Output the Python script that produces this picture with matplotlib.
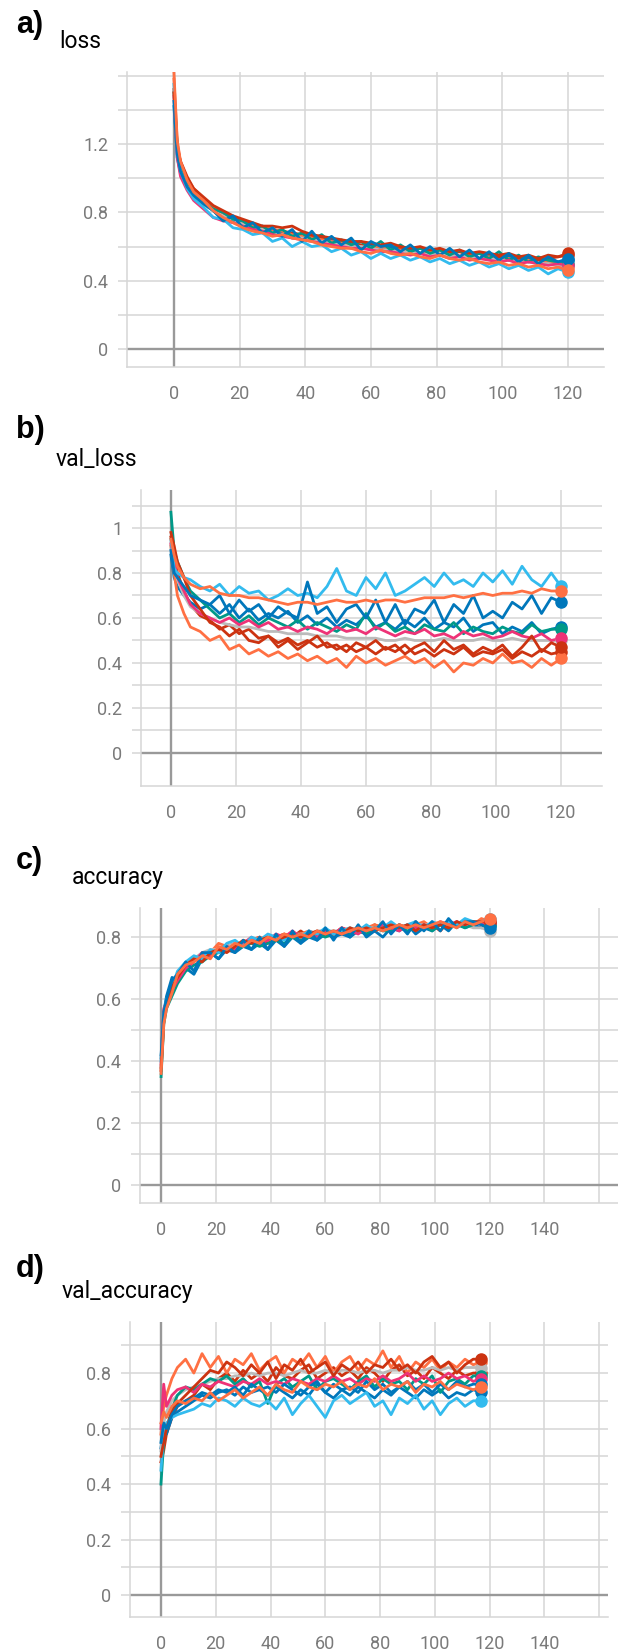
import numpy as np
import matplotlib
matplotlib.use("Agg")
import matplotlib.pyplot as plt

epochs = [0, 1, 2, 4, 6] + list(range(9, 121, 3))
epochs_va = epochs[:-1]

run_names = ["orange1", "blue1", "red1", "cyan", "magenta", "teal", "gray", "orange2", "blue2", "red2"]
run_colors = ["#ff7043", "#0077bb", "#cc3311", "#33bbee", "#ee3377", "#009988", "#bbbbbb",
              "#ff7043", "#0077bb", "#cc3311"]

# ---- loss ----
loss_orange1 = [1.62, 1.22, 1.10, 0.99, 0.92,
                0.87, 0.81, 0.77, 0.74, 0.71, 0.69, 0.68, 0.66, 0.67, 0.65,
                0.64, 0.63, 0.61, 0.60, 0.59, 0.59, 0.57, 0.56, 0.58, 0.56,
                0.55, 0.56, 0.54, 0.53, 0.55, 0.53, 0.52, 0.53, 0.51, 0.50,
                0.51, 0.49, 0.50, 0.48, 0.49, 0.47, 0.48, 0.46]
loss_blue1 = [1.45, 1.14, 1.04, 0.95, 0.90,
              0.85, 0.81, 0.75, 0.78, 0.71, 0.74, 0.68, 0.71, 0.66, 0.70,
              0.63, 0.69, 0.62, 0.66, 0.61, 0.65, 0.58, 0.63, 0.60, 0.61,
              0.57, 0.61, 0.56, 0.60, 0.55, 0.59, 0.54, 0.58, 0.53, 0.57,
              0.52, 0.56, 0.51, 0.55, 0.50, 0.54, 0.51, 0.53]
loss_red1 = [1.50, 1.18, 1.10, 1.01, 0.94,
             0.89, 0.84, 0.81, 0.78, 0.76, 0.74, 0.72, 0.72, 0.71, 0.72,
             0.69, 0.67, 0.66, 0.65, 0.64, 0.63, 0.63, 0.62, 0.61, 0.62,
             0.60, 0.59, 0.60, 0.58, 0.59, 0.57, 0.58, 0.56, 0.57, 0.56,
             0.55, 0.56, 0.54, 0.55, 0.53, 0.55, 0.54, 0.56]
loss_cyan = [1.55, 1.16, 1.04, 0.94, 0.88,
             0.83, 0.77, 0.76, 0.71, 0.70, 0.67, 0.68, 0.63, 0.65, 0.60,
             0.63, 0.60, 0.61, 0.57, 0.59, 0.55, 0.57, 0.53, 0.56, 0.53,
             0.55, 0.52, 0.54, 0.51, 0.53, 0.50, 0.52, 0.49, 0.51, 0.48,
             0.50, 0.47, 0.49, 0.46, 0.48, 0.44, 0.47, 0.45]
loss_magenta = [1.48, 1.12, 1.01, 0.93, 0.87,
                0.82, 0.77, 0.75, 0.74, 0.72, 0.70, 0.69, 0.67, 0.66, 0.65,
                0.64, 0.63, 0.62, 0.61, 0.60, 0.59, 0.59, 0.58, 0.57, 0.57,
                0.56, 0.55, 0.56, 0.54, 0.55, 0.53, 0.54, 0.52, 0.53, 0.52,
                0.51, 0.52, 0.50, 0.51, 0.50, 0.49, 0.50, 0.49]
loss_teal = [1.50, 1.19, 1.08, 0.98, 0.92,
             0.86, 0.82, 0.80, 0.76, 0.75, 0.71, 0.72, 0.68, 0.70, 0.66,
             0.68, 0.64, 0.67, 0.62, 0.64, 0.61, 0.63, 0.59, 0.63, 0.58,
             0.61, 0.57, 0.59, 0.56, 0.58, 0.55, 0.58, 0.54, 0.56, 0.53,
             0.57, 0.52, 0.55, 0.51, 0.54, 0.52, 0.51, 0.50]
loss_gray = [1.47, 1.16, 1.06, 0.97, 0.91,
             0.85, 0.81, 0.78, 0.76, 0.73, 0.71, 0.70, 0.68, 0.67, 0.66,
             0.65, 0.64, 0.63, 0.62, 0.61, 0.60, 0.60, 0.59, 0.58, 0.58,
             0.57, 0.57, 0.56, 0.55, 0.56, 0.54, 0.55, 0.54, 0.53, 0.53,
             0.52, 0.52, 0.51, 0.51, 0.50, 0.50, 0.49, 0.49]
loss_orange2 = [1.58, 1.21, 1.09, 1.00, 0.94,
                0.88, 0.83, 0.80, 0.77, 0.74, 0.72, 0.71, 0.70, 0.69, 0.67,
                0.66, 0.65, 0.64, 0.63, 0.62, 0.61, 0.60, 0.59, 0.60, 0.58,
                0.58, 0.57, 0.56, 0.57, 0.55, 0.56, 0.54, 0.55, 0.53, 0.54,
                0.52, 0.53, 0.51, 0.52, 0.50, 0.51, 0.49, 0.48]
loss_blue2 = [1.42, 1.12, 1.03, 0.95, 0.90,
              0.85, 0.81, 0.76, 0.75, 0.73, 0.70, 0.72, 0.67, 0.69, 0.65,
              0.66, 0.64, 0.62, 0.64, 0.60, 0.62, 0.59, 0.61, 0.58, 0.60,
              0.57, 0.59, 0.56, 0.58, 0.55, 0.57, 0.54, 0.56, 0.53, 0.55,
              0.52, 0.54, 0.51, 0.53, 0.50, 0.52, 0.51, 0.52]
loss_red2 = [1.52, 1.19, 1.09, 1.00, 0.93,
             0.88, 0.83, 0.79, 0.77, 0.75, 0.73, 0.71, 0.70, 0.69, 0.68,
             0.67, 0.66, 0.65, 0.64, 0.63, 0.62, 0.61, 0.61, 0.60, 0.60,
             0.59, 0.58, 0.59, 0.57, 0.58, 0.56, 0.57, 0.55, 0.56, 0.55,
             0.54, 0.55, 0.53, 0.54, 0.52, 0.53, 0.54, 0.55]

# ---- val_loss ----
vl_orange1 = [0.95, 0.88, 0.83, 0.78, 0.75,
              0.73, 0.74, 0.71, 0.70, 0.70, 0.69, 0.69, 0.68, 0.67, 0.66,
              0.67, 0.67, 0.66, 0.67, 0.68, 0.67, 0.67, 0.68, 0.67, 0.68,
              0.68, 0.67, 0.68, 0.69, 0.69, 0.69, 0.70, 0.69, 0.70, 0.71,
              0.70, 0.71, 0.71, 0.72, 0.71, 0.73, 0.72, 0.72]
vl_blue1 = [0.90, 0.80, 0.78, 0.74, 0.70,
            0.68, 0.66, 0.70, 0.62, 0.68, 0.63, 0.66, 0.60, 0.65, 0.62,
            0.60, 0.76, 0.62, 0.65, 0.58, 0.64, 0.66, 0.60, 0.68, 0.58,
            0.66, 0.57, 0.64, 0.62, 0.68, 0.58, 0.66, 0.62, 0.70, 0.60,
            0.63, 0.60, 0.67, 0.64, 0.70, 0.62, 0.69, 0.67]
vl_red1 = [0.98, 0.92, 0.85, 0.78, 0.70,
           0.64, 0.58, 0.56, 0.52, 0.55, 0.50, 0.49, 0.52, 0.47, 0.50,
           0.46, 0.49, 0.52, 0.47, 0.48, 0.45, 0.49, 0.47, 0.50, 0.46,
           0.48, 0.44, 0.47, 0.49, 0.45, 0.50, 0.46, 0.48, 0.44, 0.47,
           0.45, 0.48, 0.43, 0.47, 0.52, 0.45, 0.49, 0.47]
vl_cyan = [0.95, 0.82, 0.80, 0.78, 0.77,
           0.74, 0.72, 0.75, 0.70, 0.74, 0.71, 0.72, 0.68, 0.70, 0.73,
           0.70, 0.71, 0.69, 0.74, 0.82, 0.72, 0.70, 0.78, 0.73, 0.80,
           0.70, 0.72, 0.75, 0.78, 0.74, 0.80, 0.75, 0.77, 0.74, 0.80,
           0.76, 0.81, 0.75, 0.83, 0.77, 0.74, 0.80, 0.74]
vl_magenta = [0.93, 0.85, 0.78, 0.72, 0.66,
              0.62, 0.60, 0.58, 0.60, 0.57, 0.59, 0.56, 0.58, 0.55, 0.56,
              0.54, 0.56, 0.55, 0.53, 0.56, 0.54, 0.55, 0.53, 0.56, 0.54,
              0.52, 0.54, 0.53, 0.55, 0.52, 0.53, 0.51, 0.54, 0.52, 0.53,
              0.51, 0.52, 0.54, 0.52, 0.51, 0.53, 0.50, 0.51]
vl_teal = [1.07, 0.90, 0.85, 0.78, 0.72,
           0.68, 0.64, 0.60, 0.62, 0.58, 0.61, 0.57, 0.60, 0.58, 0.56,
           0.59, 0.55, 0.58, 0.56, 0.54, 0.57, 0.55, 0.62, 0.55, 0.58,
           0.54, 0.56, 0.53, 0.57, 0.55, 0.54, 0.58, 0.53, 0.56, 0.54,
           0.53, 0.56, 0.54, 0.53, 0.57, 0.54, 0.55, 0.55]
vl_gray = [0.92, 0.84, 0.77, 0.70, 0.65,
           0.62, 0.60, 0.58, 0.57, 0.56, 0.56, 0.55, 0.54, 0.54, 0.53,
           0.53, 0.53, 0.52, 0.52, 0.52, 0.51, 0.51, 0.51, 0.51, 0.50,
           0.50, 0.51, 0.50, 0.50, 0.50, 0.51, 0.50, 0.50, 0.50, 0.51,
           0.50, 0.50, 0.51, 0.50, 0.50, 0.50, 0.50, 0.50]
vl_orange2 = [0.92, 0.80, 0.70, 0.62, 0.56,
              0.54, 0.50, 0.52, 0.46, 0.48, 0.44, 0.46, 0.43, 0.45, 0.42,
              0.44, 0.41, 0.43, 0.40, 0.42, 0.38, 0.43, 0.40, 0.42, 0.39,
              0.41, 0.43, 0.40, 0.42, 0.38, 0.41, 0.36, 0.40, 0.39, 0.42,
              0.40, 0.44, 0.40, 0.41, 0.38, 0.42, 0.39, 0.42]
vl_blue2 = [0.88, 0.78, 0.74, 0.70, 0.67,
            0.64, 0.66, 0.62, 0.66, 0.60, 0.64, 0.59, 0.62, 0.60, 0.63,
            0.58, 0.61, 0.57, 0.60, 0.56, 0.59, 0.57, 0.61, 0.56, 0.58,
            0.55, 0.59, 0.56, 0.60, 0.55, 0.58, 0.56, 0.60, 0.54, 0.57,
            0.58, 0.53, 0.56, 0.54, 0.58, 0.53, 0.55, 0.56]
vl_red2 = [0.96, 0.88, 0.80, 0.72, 0.66,
           0.61, 0.59, 0.55, 0.57, 0.53, 0.55, 0.51, 0.52, 0.49, 0.51,
           0.48, 0.50, 0.47, 0.49, 0.46, 0.48, 0.45, 0.47, 0.44, 0.47,
           0.45, 0.48, 0.44, 0.46, 0.43, 0.46, 0.44, 0.47, 0.43, 0.45,
           0.44, 0.46, 0.42, 0.45, 0.43, 0.46, 0.44, 0.45]

# ---- accuracy ----
acc_orange1 = [0.36, 0.52, 0.57, 0.62, 0.68,
               0.71, 0.72, 0.74, 0.73, 0.77, 0.76, 0.78, 0.77, 0.79, 0.78,
               0.80, 0.79, 0.81, 0.80, 0.81, 0.80, 0.82, 0.81, 0.82, 0.81,
               0.82, 0.83, 0.82, 0.83, 0.82, 0.83, 0.84, 0.83, 0.84, 0.83,
               0.84, 0.85, 0.84, 0.83, 0.85, 0.84, 0.85, 0.86]
acc_blue1 = [0.42, 0.56, 0.60, 0.66, 0.68,
             0.72, 0.69, 0.75, 0.75, 0.73, 0.77, 0.75, 0.79, 0.76, 0.80,
             0.76, 0.81, 0.77, 0.82, 0.78, 0.82, 0.79, 0.83, 0.79, 0.83,
             0.80, 0.84, 0.80, 0.82, 0.85, 0.81, 0.84, 0.81, 0.85, 0.82,
             0.85, 0.82, 0.86, 0.83, 0.85, 0.85, 0.84, 0.83]
acc_red1 = [0.38, 0.54, 0.59, 0.64, 0.67,
            0.71, 0.73, 0.72, 0.75, 0.76, 0.75, 0.77, 0.79, 0.78, 0.79,
            0.80, 0.79, 0.80, 0.81, 0.80, 0.81, 0.82, 0.81, 0.82, 0.81,
            0.83, 0.82, 0.83, 0.82, 0.83, 0.84, 0.83, 0.84, 0.82, 0.84,
            0.83, 0.84, 0.83, 0.85, 0.84, 0.85, 0.85, 0.85]
acc_cyan = [0.40, 0.55, 0.60, 0.64, 0.69,
            0.72, 0.74, 0.73, 0.76, 0.75, 0.78, 0.79, 0.77, 0.80, 0.79,
            0.81, 0.80, 0.79, 0.81, 0.80, 0.82, 0.81, 0.83, 0.81, 0.82,
            0.83, 0.82, 0.84, 0.82, 0.83, 0.85, 0.83, 0.84, 0.85, 0.83,
            0.85, 0.84, 0.85, 0.84, 0.86, 0.85, 0.85, 0.86]
acc_magenta = [0.39, 0.57, 0.59, 0.63, 0.66,
               0.70, 0.72, 0.75, 0.74, 0.76, 0.77, 0.76, 0.78, 0.80, 0.78,
               0.79, 0.81, 0.80, 0.82, 0.80, 0.81, 0.80, 0.82, 0.81, 0.83,
               0.82, 0.81, 0.83, 0.82, 0.84, 0.83, 0.82, 0.84, 0.83, 0.84,
               0.83, 0.85, 0.84, 0.85, 0.84, 0.85, 0.84, 0.85]
acc_teal = [0.35, 0.52, 0.57, 0.61, 0.65,
            0.69, 0.71, 0.72, 0.74, 0.75, 0.76, 0.76, 0.77, 0.78, 0.77,
            0.78, 0.79, 0.78, 0.80, 0.79, 0.80, 0.81, 0.80, 0.81, 0.82,
            0.81, 0.82, 0.81, 0.83, 0.82, 0.82, 0.83, 0.82, 0.83, 0.84,
            0.82, 0.84, 0.83, 0.84, 0.83, 0.84, 0.85, 0.84]
acc_gray = [0.40, 0.55, 0.59, 0.64, 0.67,
            0.71, 0.73, 0.75, 0.76, 0.76, 0.77, 0.78, 0.78, 0.79, 0.79,
            0.80, 0.80, 0.80, 0.81, 0.81, 0.81, 0.82, 0.82, 0.82, 0.82,
            0.82, 0.83, 0.83, 0.83, 0.83, 0.83, 0.83, 0.84, 0.84, 0.84,
            0.84, 0.84, 0.84, 0.84, 0.84, 0.83, 0.83, 0.82]
acc_orange2 = [0.37, 0.53, 0.58, 0.63, 0.67,
               0.70, 0.73, 0.74, 0.75, 0.78, 0.77, 0.76, 0.78, 0.79, 0.80,
               0.79, 0.80, 0.81, 0.80, 0.81, 0.82, 0.81, 0.82, 0.81, 0.82,
               0.83, 0.82, 0.83, 0.84, 0.83, 0.82, 0.84, 0.83, 0.84, 0.85,
               0.83, 0.84, 0.85, 0.84, 0.85, 0.84, 0.86, 0.85]
acc_blue2 = [0.41, 0.56, 0.61, 0.67, 0.66,
             0.70, 0.68, 0.73, 0.75, 0.73, 0.76, 0.75, 0.77, 0.76, 0.78,
             0.76, 0.79, 0.77, 0.80, 0.78, 0.80, 0.79, 0.81, 0.80, 0.81,
             0.80, 0.82, 0.81, 0.82, 0.80, 0.83, 0.82, 0.84, 0.81, 0.83,
             0.82, 0.84, 0.82, 0.85, 0.83, 0.84, 0.83, 0.84]
acc_red2 = [0.37, 0.53, 0.58, 0.62, 0.66,
            0.70, 0.73, 0.74, 0.74, 0.76, 0.77, 0.78, 0.77, 0.79, 0.80,
            0.78, 0.80, 0.81, 0.80, 0.82, 0.80, 0.81, 0.82, 0.81, 0.83,
            0.82, 0.83, 0.82, 0.84, 0.83, 0.82, 0.84, 0.83, 0.85, 0.83,
            0.84, 0.82, 0.85, 0.84, 0.85, 0.84, 0.85, 0.85]

# ---- val_accuracy ----
va_orange1 = [0.62, 0.66, 0.64, 0.68, 0.70,
              0.69, 0.71, 0.70, 0.73, 0.70, 0.72, 0.74, 0.71, 0.73, 0.75,
              0.72, 0.76, 0.74, 0.73, 0.77, 0.75, 0.74, 0.76, 0.75, 0.77,
              0.74, 0.76, 0.75, 0.78, 0.74, 0.76, 0.75, 0.77, 0.73, 0.76,
              0.75, 0.77, 0.74, 0.76, 0.75, 0.74, 0.75]
va_blue1 = [0.55, 0.62, 0.60, 0.65, 0.68,
            0.70, 0.71, 0.73, 0.72, 0.74, 0.73, 0.75, 0.72, 0.76, 0.74,
            0.75, 0.73, 0.76, 0.74, 0.72, 0.75, 0.77, 0.73, 0.76, 0.74,
            0.75, 0.73, 0.77, 0.74, 0.76, 0.73, 0.75, 0.77, 0.74, 0.76,
            0.73, 0.76, 0.74, 0.77, 0.75, 0.76, 0.76]
va_red1 = [0.50, 0.55, 0.60, 0.66, 0.69,
           0.72, 0.75, 0.78, 0.81, 0.80, 0.84, 0.82, 0.79, 0.83, 0.80,
           0.84, 0.78, 0.83, 0.81, 0.85, 0.80, 0.82, 0.84, 0.79, 0.83,
           0.81, 0.84, 0.80, 0.83, 0.82, 0.85, 0.81, 0.83, 0.80, 0.84,
           0.86, 0.82, 0.84, 0.80, 0.83, 0.85, 0.85]
va_cyan = [0.45, 0.58, 0.62, 0.64, 0.65,
           0.66, 0.67, 0.69, 0.68, 0.71, 0.70, 0.68, 0.71, 0.69, 0.68,
           0.70, 0.67, 0.71, 0.65, 0.69, 0.72, 0.68, 0.64, 0.70, 0.72,
           0.69, 0.71, 0.73, 0.68, 0.70, 0.65, 0.71, 0.69, 0.72, 0.67,
           0.70, 0.65, 0.69, 0.71, 0.68, 0.70, 0.70]
va_magenta = [0.60, 0.76, 0.68, 0.72, 0.74,
              0.75, 0.73, 0.76, 0.75, 0.77, 0.76, 0.75, 0.77, 0.76, 0.78,
              0.76, 0.77, 0.76, 0.78, 0.77, 0.76, 0.78, 0.77, 0.79, 0.77,
              0.78, 0.76, 0.78, 0.77, 0.79, 0.77, 0.78, 0.80, 0.77, 0.79,
              0.77, 0.78, 0.80, 0.78, 0.79, 0.77, 0.78]
va_teal = [0.40, 0.55, 0.60, 0.67, 0.72,
           0.75, 0.74, 0.76, 0.78, 0.77, 0.79, 0.76, 0.78, 0.75, 0.77,
           0.69, 0.76, 0.78, 0.75, 0.77, 0.79, 0.74, 0.77, 0.78, 0.76,
           0.74, 0.77, 0.79, 0.75, 0.78, 0.76, 0.77, 0.74, 0.78, 0.76,
           0.79, 0.73, 0.77, 0.78, 0.76, 0.79, 0.79]
va_gray = [0.52, 0.62, 0.66, 0.70, 0.72,
           0.74, 0.75, 0.76, 0.77, 0.78, 0.78, 0.79, 0.79, 0.80, 0.79,
           0.80, 0.80, 0.79, 0.80, 0.81, 0.80, 0.80, 0.81, 0.80, 0.81,
           0.81, 0.80, 0.81, 0.81, 0.80, 0.81, 0.81, 0.82, 0.81, 0.81,
           0.82, 0.81, 0.82, 0.81, 0.82, 0.82, 0.82]
va_orange2 = [0.58, 0.68, 0.72, 0.78, 0.82,
              0.85, 0.80, 0.87, 0.82, 0.86, 0.80, 0.85, 0.83, 0.87, 0.81,
              0.84, 0.86, 0.80, 0.85, 0.83, 0.87, 0.82, 0.86, 0.80, 0.84,
              0.86, 0.81, 0.85, 0.83, 0.88, 0.82, 0.86, 0.80, 0.84, 0.82,
              0.85, 0.81, 0.84, 0.82, 0.85, 0.83, 0.84]
va_blue2 = [0.53, 0.60, 0.58, 0.64, 0.66,
            0.68, 0.70, 0.72, 0.71, 0.73, 0.74, 0.72, 0.75, 0.73, 0.74,
            0.72, 0.75, 0.73, 0.71, 0.74, 0.72, 0.76, 0.73, 0.71, 0.74,
            0.72, 0.75, 0.73, 0.71, 0.74, 0.72, 0.75, 0.73, 0.71, 0.74,
            0.72, 0.74, 0.71, 0.73, 0.72, 0.74, 0.73]
va_red2 = [0.48, 0.52, 0.58, 0.64, 0.68,
           0.70, 0.72, 0.76, 0.74, 0.78, 0.80, 0.77, 0.81, 0.78, 0.80,
           0.77, 0.82, 0.79, 0.78, 0.81, 0.83, 0.78, 0.80, 0.82, 0.79,
           0.81, 0.78, 0.82, 0.80, 0.77, 0.81, 0.83, 0.79, 0.81, 0.78,
           0.82, 0.80, 0.78, 0.81, 0.79, 0.80, 0.80]

loss_runs = [loss_orange1, loss_blue1, loss_red1, loss_cyan, loss_magenta,
             loss_teal, loss_gray, loss_orange2, loss_blue2, loss_red2]
vl_runs = [vl_orange1, vl_blue1, vl_red1, vl_cyan, vl_magenta,
           vl_teal, vl_gray, vl_orange2, vl_blue2, vl_red2]
acc_runs = [acc_orange1, acc_blue1, acc_red1, acc_cyan, acc_magenta,
            acc_teal, acc_gray, acc_orange2, acc_blue2, acc_red2]
va_runs = [va_orange1, va_blue1, va_red1, va_cyan, va_magenta,
           va_teal, va_gray, va_orange2, va_blue2, va_red2]

GRID = "#d6d6d6"
ZERO = "#999999"
LABEL = "#7a7a7a"


def draw_panel(rect, x, runs, ylim, xlim, ymajor, ystep, xticks, xlabels):
    ax = fig.add_axes(rect)
    for i in reversed(range(len(runs))):
        y = runs[i]
        xx = x[:len(y)]
        ax.plot(xx, y, color=run_colors[i], lw=2.0, zorder=3)
        ax.plot(xx[-1], y[-1], "o", ms=8, color=run_colors[i], zorder=4)
    ax.set_xlim(xlim)
    ax.set_ylim(ylim)
    ax.set_yticks(ymajor)
    ax.set_yticklabels([f"{v:g}" for v in ymajor])
    ax.set_yticks(np.arange(0, ylim[1], ystep), minor=True)
    ax.set_xticks(xticks)
    ax.set_xticklabels(xlabels)
    ax.grid(True, which="both", color=GRID, lw=1.1, zorder=0)
    ax.axhline(0, color=ZERO, lw=1.7, zorder=2)
    ax.axvline(0, color=ZERO, lw=1.7, zorder=2)
    ax.tick_params(axis="y", which="both", length=6.5, width=1.1, color=GRID,
                   labelcolor=LABEL, labelsize=13, pad=7)
    ax.tick_params(axis="x", length=0, labelcolor=LABEL, labelsize=13, pad=13)
    for side in ["top", "right"]:
        ax.spines[side].set_visible(False)
    for side in ["left", "bottom"]:
        ax.spines[side].set_color(GRID)
        ax.spines[side].set_linewidth(1.1)
    for lab in ax.get_xticklabels() + ax.get_yticklabels():
        lab.set_fontfamily("Roboto")
    return ax


fig = plt.figure(figsize=(6.18, 16.5), dpi=100)
W, H = 618.0, 1650.0


def rect(left, top, right, bottom):
    return [left / W, 1 - bottom / H, (right - left) / W, (bottom - top) / H]


ticks120 = list(range(0, 121, 20))
ticks160 = list(range(0, 161, 20))
labels160 = [str(t) for t in ticks160[:-1]] + [""]

draw_panel(rect(127, 72, 604, 367), epochs, loss_runs, (-0.105, 1.622), (-14.3, 131.0),
           [0, 0.4, 0.8, 1.2], 0.2, ticks120, [str(t) for t in ticks120])
draw_panel(rect(141, 490, 602, 786), epochs, vl_runs, (-0.147, 1.169), (-9.2, 132.6),
           [0, 0.2, 0.4, 0.6, 0.8, 1.0], 0.1, ticks120, [str(t) for t in ticks120])
draw_panel(rect(140, 908, 618, 1203), epochs, acc_runs, (-0.058, 0.894), (-7.7, 166.9),
           [0, 0.2, 0.4, 0.6, 0.8], 0.1, ticks160, labels160)
draw_panel(rect(130, 1322, 608, 1617), epochs_va, va_runs, (-0.079, 0.984), (-11.3, 163.2),
           [0, 0.2, 0.4, 0.6, 0.8], 0.1, ticks160, labels160)

panel_letters = ["a)", "b)", "c)", "d)"]
panel_titles = ["loss", "val_loss", "accuracy", "val_accuracy"]
letter_base = [33, 438, 869, 1277]
title_x = [59, 56, 72, 62]
title_base = [48, 466, 884, 1298]

for i in range(4):
    fig.text(16 / W, 1 - letter_base[i] / H, panel_letters[i], fontsize=22,
             fontweight="bold", family="Liberation Sans", va="baseline")
    fig.text(title_x[i] / W, 1 - title_base[i] / H, panel_titles[i], fontsize=16.5,
             family="Roboto", va="baseline")

fig.savefig("out.png", dpi=100)
